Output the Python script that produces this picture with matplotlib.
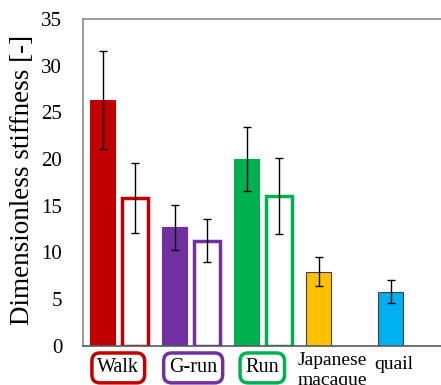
import matplotlib
matplotlib.use("Agg")
import matplotlib.pyplot as plt

# datos
categories = ["Walk", "G-run", "Run", "Japanese\nmacaque", "quail"]
filled_vals = [26.3, 12.7, 20.0, 7.9, 5.8]
filled_err = [5.25, 2.4, 3.4, 1.55, 1.25]
open_vals = [15.85, 11.25, 16.05]
open_err = [3.75, 2.3, 4.05]
colors = ["#C00000", "#7030A0", "#00B050", "#FFC000", "#00B0F0"]
yticks = [0, 5, 10, 15, 20, 25, 30, 35]

plt.rcParams["font.family"] = ["Liberation Serif", "DejaVu Serif"]

fig = plt.figure(figsize=(4.41, 3.85), dpi=100)
ax = fig.add_axes([83 / 441, 1 - 345.7 / 385, 360 / 441, 326.7 / 385])

off = 0.225
x = list(range(len(categories)))

# barras llenas (serie 1)
for i, v in enumerate(filled_vals):
    edge = "#404040" if i >= 3 else colors[i]
    ax.bar(x[i] - off, v, width=0.345, color=colors[i], edgecolor=edge,
           linewidth=0.8, zorder=2)
    ax.errorbar(x[i] - off, v, yerr=filled_err[i], fmt="none", ecolor="black",
                elinewidth=1, capsize=3, capthick=1, zorder=3)

# barras huecas (serie 2)
for i, v in enumerate(open_vals):
    ax.bar(x[i] + off, v, width=0.36, color="white", edgecolor=colors[i],
           linewidth=2.5, zorder=2)
    ax.errorbar(x[i] + off, v, yerr=open_err[i], fmt="none", ecolor="black",
                elinewidth=1, capsize=3, capthick=1, zorder=3)

ax.set_xlim(-0.5, 4.5)
ax.set_ylim(0, 35)
ax.set_yticks(yticks)
ax.tick_params(axis="y", length=0, pad=15, labelsize=15)
ax.set_xticks([])
ax.set_ylabel("Dimensionless stiffness [-]", fontsize=19.5, va="center")
ax.yaxis.set_label_coords(-0.169, 0.507)

for s in ["left", "top", "right"]:
    ax.spines[s].set_color("#8c8c8c")
    ax.spines[s].set_linewidth(1.2)
ax.spines["bottom"].set_color("#595959")
ax.spines["bottom"].set_linewidth(1.2)

# etiquetas de categorias
tr = ax.get_xaxis_transform()
for i in range(3):
    ax.text(x[i] + [-0.01, 0.03, -0.01][i], -0.068, categories[i], transform=tr,
            ha="center", va="center", fontsize=14.5, clip_on=False,
            bbox=dict(boxstyle="round,pad=0.27,rounding_size=0.4",
                      fc="white", ec=colors[i], lw=2.5))
ax.text(x[3] - 0.04, -0.018, categories[3], transform=tr, ha="center",
        va="top", fontsize=14, linespacing=1.3, clip_on=False)
ax.text(x[4] - 0.18, -0.059, categories[4], transform=tr, ha="center",
        va="center", fontsize=14, clip_on=False)

fig.savefig("out.png", dpi=100)
